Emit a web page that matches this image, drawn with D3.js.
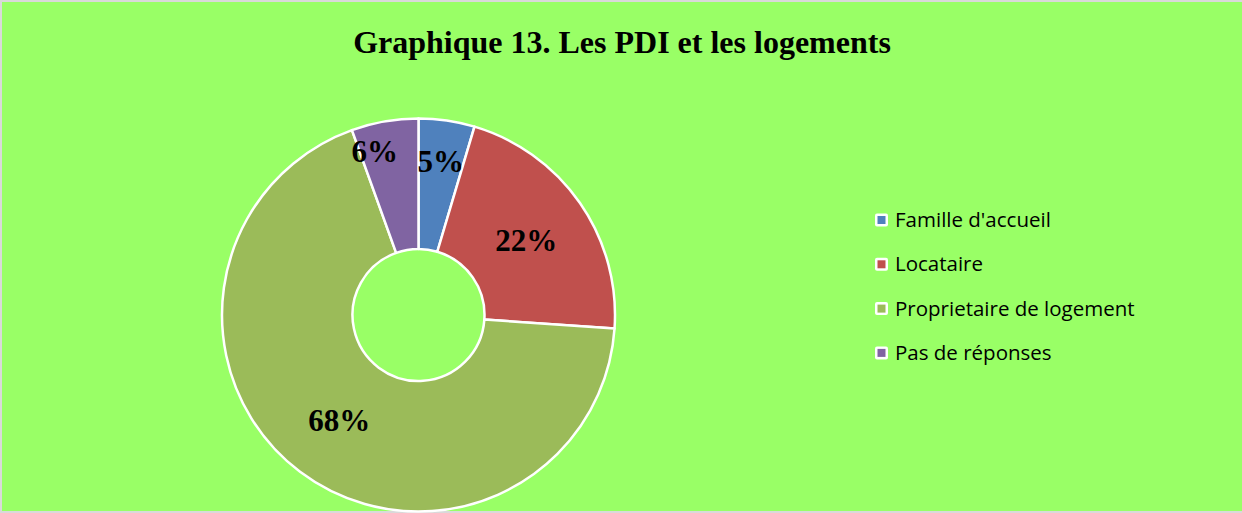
<!DOCTYPE html>
<html>
<head>
<meta charset="utf-8">
<script src="https://cdn.jsdelivr.net/npm/d3@7"></script>
<style>
  html, body { margin: 0; padding: 0; background: #d9d9d9; }
  svg { display: block; }
</style>
</head>
<body>
<svg id="viz"></svg>
<script>
// data
const categories = ["Famille d'accueil", "Locataire", "Proprietaire de logement", "Pas de réponses"];
const values = [4.6, 21.5, 68.4, 5.5];
const colors = ["#4f81bd", "#c0504d", "#9bbb59", "#8064a2"];
const title = "Graphique 13. Les PDI et les logements";

const width = 1242, height = 513;
const svg = d3.select("#viz").attr("width", width).attr("height", height);

// chart area (grey border top/left/bottom)
svg.append("rect")
  .attr("x", 2).attr("y", 2)
  .attr("width", width - 2).attr("height", 509)
  .attr("fill", "#99ff66");

svg.append("text")
  .attr("x", 622).attr("y", 53)
  .attr("text-anchor", "middle")
  .style("font-family", "'Liberation Serif', 'Times New Roman', serif")
  .style("font-weight", "bold")
  .style("font-size", "32px")
  .text(title);

const cx = 418.5, cy = 315, outerR = 196.5, innerR = 66;
const total = d3.sum(values);

const pie = d3.pie().sort(null).value((d) => d.value);
const arcs = pie(values.map((v, i) => ({ name: categories[i], value: v, color: colors[i] })));

const arc = d3.arc().innerRadius(innerR).outerRadius(outerR);

const g = svg.append("g").attr("transform", `translate(${cx},${cy})`);

g.selectAll("path")
  .data(arcs)
  .join("path")
  .attr("d", arc)
  .attr("fill", (d) => d.data.color)
  .attr("stroke", "#fff")
  .attr("stroke-width", 2.5)
  .attr("stroke-linejoin", "round");

// labels: centroid of the ring, small slices pushed outward and apart
const placed = [];
arcs.forEach((d) => {
  const small = d.data.value / total < 0.08;
  let a = (d.startAngle + d.endAngle) / 2;
  let r = small ? 155 : (innerR + outerR) / 2;
  const pos = () => [r * Math.sin(a), -r * Math.cos(a)];
  let p = pos();
  let tries = 0;
  while (small && tries < 20 && placed.some((q) => Math.abs(q[0] - p[0]) < 65 && Math.abs(q[1] - p[1]) < 30)) {
    a -= Math.PI / 180;
    r += 3;
    p = pos();
    tries++;
  }
  placed.push(p);
  d.labelPos = p;
});

g.selectAll("text.lbl")
  .data(arcs)
  .join("text")
  .attr("class", "lbl")
  .attr("transform", (d) => `translate(${d.labelPos})`)
  .attr("text-anchor", "middle")
  .attr("dy", "0.35em")
  .style("font-family", "'Liberation Serif', 'Times New Roman', serif")
  .style("font-weight", "bold")
  .style("font-size", "31px")
  .text((d) => Math.round(d.data.value / total * 100) + "%");

// legend
const legend = svg.append("g").attr("transform", "translate(875,220)");
const item = legend.selectAll("g")
  .data(categories)
  .join("g")
  .attr("transform", (d, i) => `translate(0,${i * 44.3})`);

item.append("rect")
  .attr("x", 0).attr("y", -6.5)
  .attr("width", 13).attr("height", 13)
  .attr("rx", 2)
  .attr("fill", "#fff");
item.append("rect")
  .attr("x", 2.5).attr("y", -4)
  .attr("width", 8).attr("height", 8)
  .attr("fill", (d, i) => colors[i]);
item.append("text")
  .attr("x", 20).attr("y", 0)
  .attr("dy", "0.35em")
  .style("font-family", "'Open Sans', sans-serif")
  .style("font-size", "20.5px")
  .attr("fill", "#000")
  .text((d) => d);
</script>
</body>
</html>
